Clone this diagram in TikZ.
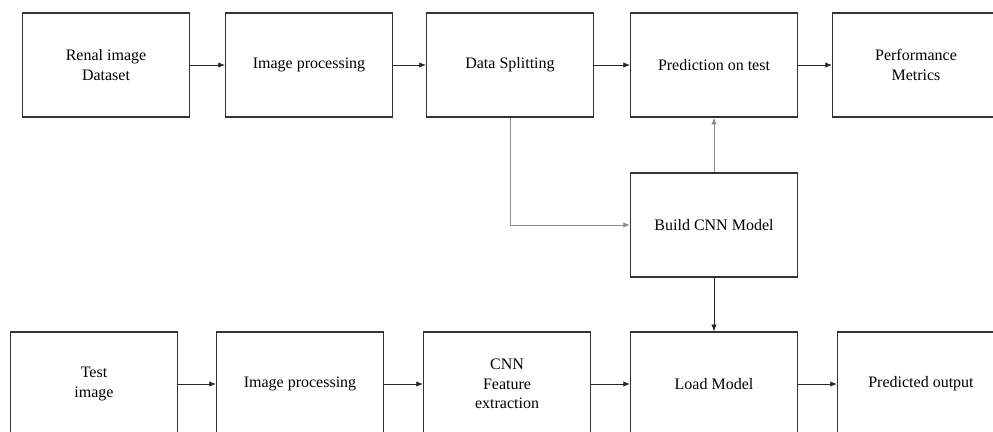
\documentclass[tikz,border=0pt]{standalone}
\usepackage{fontspec}
\setmainfont{Liberation Serif}
\usetikzlibrary{arrows.meta}

\begin{document}
\begin{tikzpicture}[x=0.75pt,y=-0.75pt,
  box/.style={draw=black!80,line width=1.1pt,minimum width=125pt,minimum height=78pt,
    inner sep=2pt,align=center,font=\fontsize{12}{14.5}\selectfont},
  arr/.style={-{Latex[length=5pt,width=4pt]},line width=0.5pt,black!85},
  garr/.style={-{Latex[length=5pt,width=4pt]},line width=0.6pt,black!45}]
  \useasboundingbox (0,0) rectangle (993,432);
  % training row
  \path (106,65) node[box] (dataset) {Renal image\\Dataset}
  (309,65) node[box] (proc1) {Image processing}
  (510,65) node[box] (split) {Data Splitting}
  (714,65) node[box] (pred) {Prediction on test}
  (916,65) node[box] (metric) {Performance\\Metrics};
  \node[box] (build) at (714,225) {Build CNN Model};
  % testing row
  \path (94,384) node[box] (test) {Test\\image}
  (300,384) node[box] (proc2) {Image processing}
  (507,384) node[box] (feat) {CNN\\Feature\\extraction}
  (714,384) node[box] (load) {Load Model}
  (921,384) node[box] (out) {Predicted output};
  \draw[arr] (dataset) -- (proc1);
  \draw[arr] (proc1) -- (split);
  \draw[arr] (split) -- (pred);
  \draw[arr] (pred) -- (metric);
  \draw[garr] (split.south) |- (build.west);
  \draw[garr] (build) -- (pred);
  \draw[arr] (build) -- (load);
  \draw[arr] (test) -- (proc2);
  \draw[arr] (proc2) -- (feat);
  \draw[arr] (feat) -- (load);
  \draw[arr] (load) -- (out);
\end{tikzpicture}
\end{document}
